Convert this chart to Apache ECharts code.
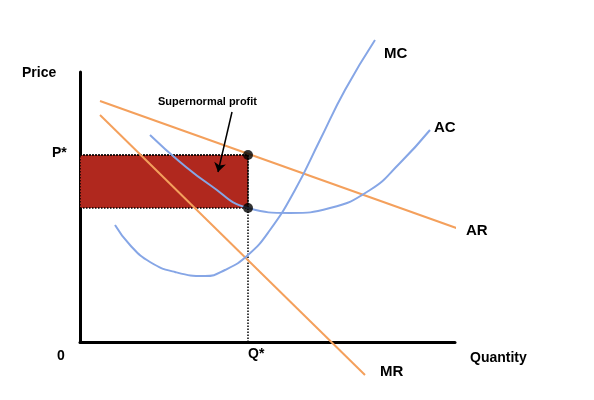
<!DOCTYPE html>
<html><head><meta charset="utf-8">
<script src="https://cdn.jsdelivr.net/npm/echarts@6/dist/echarts.min.js"></script>
<style>html,body{margin:0;background:#fff}#main{width:594px;height:400px}</style>
</head><body><div id="main"></div>
<script>
var chart = echarts.init(document.getElementById('main'));

var arData = [[20, 241], [382, 112]];
var mrData = [[20, 227], [285, -33]];
var mcData = [[35,117],[50,97],[70,80],[95,70],[125,66],[145,72],[168,87],[190,112],[215,152],[240,202],[265,252],[295,302]];
var acData = [[70,207],[100,180],[130,157],[168,134],[210,129],[250,134],[290,152],[320,179],[350,212]];
var qStar = 168, pStar = 187, acStar = 134;
var dots = [[qStar, pStar], [qStar, acStar]];

var orange = '#f4a05c', blue = '#86a6e6';
var font = 'Liberation Sans';
function txt(x, y, s, size, align) {
    return {type: 'text', left: x, top: y, style: {text: s, font: 'bold ' + (size || 14) + 'px ' + font, fill: '#000', textAlign: align || 'left'}};
}

option = {
    animation: false,
    grid: {left: 80, top: 72, width: 375, height: 270},
    xAxis: {type: 'value', min: 0, max: 375, axisLine: {show: true, onZero: false, lineStyle: {color: '#000', width: 3}},
        axisTick: {show: false}, axisLabel: {show: false}, splitLine: {show: false}},
    yAxis: {type: 'value', min: 0, max: 270, axisLine: {show: true, lineStyle: {color: '#000', width: 3}},
        axisTick: {show: false}, axisLabel: {show: false}, splitLine: {show: false}},
    series: [
        {type: 'line', data: [[0, pStar], [qStar, pStar]], symbol: 'none', z: 1,
            lineStyle: {color: '#000', width: 1.5, type: 'dotted'},
            markArea: {silent: true, itemStyle: {color: '#b0281e', borderColor: '#000', borderWidth: 1.5, borderType: 'dotted'},
                data: [[{coord: [0, acStar]}, {coord: [qStar, pStar]}]]}},
        {type: 'line', data: [[qStar, 0], [qStar, pStar]], symbol: 'none',
            lineStyle: {color: '#000', width: 1.5, type: 'dotted'},
            markLine: {silent: true, symbol: ['none', 'arrow'], symbolSize: 9, label: {show: false},
                lineStyle: {color: '#000', width: 1.5, type: 'solid'},
                data: [[{coord: [152, 230]}, {coord: [138, 170]}]]}},
        {type: 'line', data: arData, symbol: 'none', clip: false, lineStyle: {color: orange, width: 2}},
        {type: 'line', data: mrData, symbol: 'none', clip: false, lineStyle: {color: orange, width: 2}},
        {type: 'line', data: mcData, smooth: true, symbol: 'none', clip: false, lineStyle: {color: blue, width: 2}},
        {type: 'line', data: acData, smooth: true, symbol: 'none', clip: false, lineStyle: {color: blue, width: 2}},
        {type: 'scatter', data: dots, symbolSize: 10, itemStyle: {color: '#000'}, z: 5}
    ],
    graphic: [
        txt(22, 66, 'Price', 14),
        txt(52, 146, 'P*', 14),
        txt(57, 349, '0', 14),
        txt(248, 347, 'Q*', 14, 'center'),
        txt(470, 351, 'Quantity', 14),
        txt(384, 46, 'MC', 15),
        txt(434, 120, 'AC', 15),
        txt(466, 223, 'AR', 15),
        txt(380, 364, 'MR', 15),
        txt(158, 96, 'Supernormal profit', 11)
    ]
};

chart.setOption(option);
</script></body></html>
